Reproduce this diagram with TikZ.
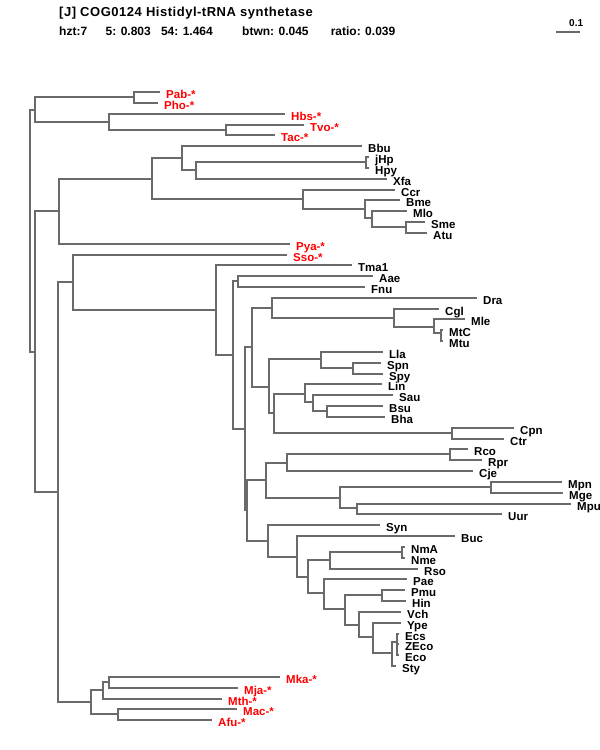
\documentclass[tikz,border=0pt]{standalone}
\usepackage{fontspec}
\setmainfont{Liberation Sans}
\newfontfamily\ttlfont[LetterSpace=4]{Liberation Sans}
\usepackage{xcolor}
\definecolor{brgray}{HTML}{6A6A6A}
\begin{document}
\begin{tikzpicture}[
  x=1pt, y=-1pt,
  br/.style={draw=brgray, line width=2pt},
  lbl/.style={anchor=base west, inner sep=0pt, xshift=6pt, yshift=-6.5pt, font=\bfseries\fontsize{11.5}{11.5}\selectfont},
  arch/.style={lbl, text=red},
  hdr/.style={anchor=base west, inner sep=0pt, font=\bfseries\fontsize{12}{12}\selectfont}
]
\useasboundingbox (0,0) rectangle (600,750);
% header
\node[hdr, font=\ttlfont\bfseries\fontsize{13}{13}\selectfont] (title) at (59,16) {[J] COG0124 Histidyl-tRNA synthetase};
\node[hdr] (h1) at (59,35) {hzt:7};
\node[hdr] (h2) at (105.5,35) {5: 0.803};
\node[hdr] (h3) at (160.8,35) {54: 1.464};
\node[hdr] (h4) at (242,35) {btwn: 0.045};
\node[hdr] (h5) at (330.6,35) {ratio: 0.039};
% scale bar
\coordinate (sb1) at (556,32);
\coordinate (sb2) at (580,32);
\draw[br] (sb1) -- (sb2);
\node[anchor=base west, inner sep=0pt, font=\bfseries\fontsize{10}{10}\selectfont] (scl) at (569,26) {0.1};
% internal nodes
\foreach \n/\x/\y in {root/30/230, A/35/110, pyro/134/97, HT/109/122, TT/226/130,
  B/35/352, C/59/211, D/152/179, E/182/158, G/196/170, hel/366/162,
  F/303/199, H/365/209, I/372/218, J/406/227,
  K/58/492, L/73/282, N/216/310, O/233/355, P/238/281, Q/245/429,
  R/252/347, T/272/308, V/394/318, W/434/327, X/441/333,
  U/269/387, Y/321/359, SS/353/368, Z/274/413, AA/305/394, BB/313/402,
  BS/327/411, chl/452/433, S/247/510, CC/266/480, EE/287/463, RR/450/454,
  FF/340/498, myc/491/487, GG/357/508, DD/268/541, HH/297/557,
  II/308/577, JJ/330/560, nei/402/552, KK/324/593, LL/345/609,
  PH/382/595, MMv/359/625, NNy/373/637, OO/392/653, EC/397/642,
  M/91/702, QQ/103/690, MK/109/682, MA/118/714}
  \coordinate (\n) at (\x,\y);
% leaf tips
\foreach \n/\x/\y in {Pab/160/92, Pho/158/103, Hbs/285/114, Tvo/304/125, Tac/275/135,
  Bbu/362/146, jHp/369/157, Hpy/369/168, Xfa/387/179, Ccr/395/190,
  Bme/400/200, Mlo/407/211, Sme/425/222, Atu/427/233, Pya/290/244,
  Sso/287/255, Tma1/352/265, Aae/373/276, Fnu/365/287, Dra/477/298,
  Cgl/439/309, Mle/465/319, MtC/443/330, Mtu/443/341, Lla/383/352,
  Spn/381/363, Spy/383/374, Lin/382/384, Sau/393/395, Bsu/383/406,
  Bha/385/417, Cpn/514/428, Ctr/504/439, Rco/468/449, Rpr/482/460,
  Cje/473/471, Mpn/562/482, Mge/563/493, Mpu/571/504, Uur/502/514,
  Syn/380/525, Buc/455/536, NmA/405/547, Nme/405/558, Rso/418/569,
  Pae/407/579, Pmu/405/590, Hin/406/601, Vch/401/612, Ype/401/623,
  Ecs/399/634, ZEco/399/644, Eco/399/655, Sty/396/666,
  Mka/280/677, Mja/238/688, Mth/222/699, Mac/237/709, Afu/212/720}
  \coordinate (\n) at (\x,\y);
% branches
\foreach \p/\c in {root/A, root/B, A/pyro, A/HT, pyro/Pab, pyro/Pho, HT/Hbs, HT/TT, TT/Tvo, TT/Tac,
  B/C, B/K, C/D, C/Pya, D/E, D/F, E/Bbu, E/G, G/hel, G/Xfa, hel/jHp, hel/Hpy,
  F/Ccr, F/H, H/Bme, H/I, I/Mlo, I/J, J/Sme, J/Atu,
  K/L, K/M, L/Sso, L/N, N/Tma1, N/O, O/P, O/Q, P/Aae, P/Fnu, Q/R, Q/S,
  R/T, R/U, T/Dra, T/V, V/Cgl, V/W, W/Mle, W/X, X/MtC, X/Mtu,
  U/Y, U/Z, Y/Lla, Y/SS, SS/Spn, SS/Spy, Z/AA, Z/chl, AA/Lin, AA/BB,
  BB/Sau, BB/BS, BS/Bsu, BS/Bha, chl/Cpn, chl/Ctr,
  S/CC, S/DD, CC/EE, CC/FF, EE/RR, EE/Cje, RR/Rco, RR/Rpr, FF/myc, FF/GG,
  myc/Mpn, myc/Mge, GG/Mpu, GG/Uur, DD/Syn, DD/HH, HH/Buc, HH/II, II/JJ, II/KK,
  JJ/nei, JJ/Rso, nei/NmA, nei/Nme, KK/Pae, KK/LL, LL/PH, LL/MMv, PH/Pmu, PH/Hin,
  MMv/Vch, MMv/NNy, NNy/Ype, NNy/OO, OO/EC, OO/Sty, EC/Ecs, EC/ZEco, EC/Eco,
  M/QQ, M/MA, QQ/MK, QQ/Mth, MK/Mka, MK/Mja, MA/Mac, MA/Afu}
  \draw[br] (\p) |- (\c);
% labels
\foreach \n in {Bbu, jHp, Hpy, Xfa, Ccr, Bme, Mlo, Sme, Atu, Tma1, Aae, Fnu, Dra, Cgl, Mle,
  MtC, Mtu, Lla, Spn, Spy, Lin, Sau, Bsu, Bha, Cpn, Ctr, Rco, Rpr, Cje, Mpn, Mge, Mpu,
  Uur, Syn, Buc, NmA, Nme, Rso, Pae, Pmu, Hin, Vch, Ype, Ecs, ZEco, Eco, Sty}
  \node[lbl] (\n-l) at (\n) {\n};
\foreach \n in {Pab, Pho, Hbs, Tvo, Tac, Pya, Sso, Mka, Mja, Mth, Mac, Afu}
  \node[arch] (\n-l) at (\n) {\n-*};
\end{tikzpicture}
\end{document}
